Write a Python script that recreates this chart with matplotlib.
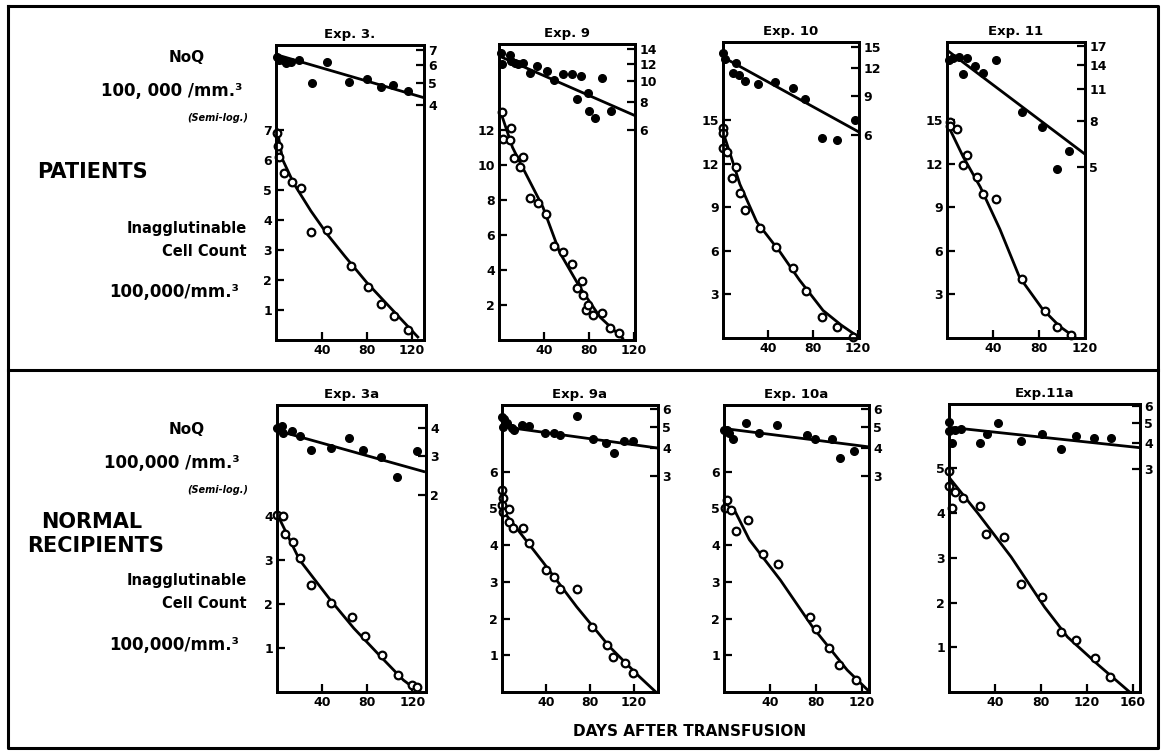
import matplotlib
matplotlib.use("Agg")
from matplotlib import pyplot as plt
from matplotlib.lines import Line2D
from matplotlib.ticker import NullLocator

plt.rcParams["font.family"] = ["DejaVu Sans"]
plt.rcParams["font.weight"] = "bold"

W, H = 1163, 752

# ---------------- data ----------------
# Exp. 3 (patient)
exp3_days = [0, 1, 2, 6, 13, 21, 30, 44, 66, 81, 92, 104, 116]
exp3_count = [6.9, 6.45, 6.1, 5.57, 5.25, 5.05, 3.6, 3.65, 2.48, 1.77, 1.2, 0.8, 0.33]
exp3_fit_days = [0, 5, 15, 30, 45, 60, 80, 100, 125]
exp3_fit_count = [7.0, 6.0, 5.2, 4.3, 3.5, 2.8, 1.9, 1.1, 0.1]
exp3_noq_days = [0, 2, 5, 8, 12, 19, 31, 44, 64, 80, 92, 103, 116]
exp3_noq = [6.5, 6.3, 6.3, 6.1, 6.2, 6.3, 5.0, 6.2, 5.05, 5.2, 4.8, 4.9, 4.6]
exp3_noq_fit_days = [0, 130]
exp3_noq_fit = [6.65, 4.3]

# Exp. 9 (patient)
exp9_days = [3, 3.5, 10, 11, 13, 19, 21, 28, 35, 42, 49, 57, 65, 69, 74, 75, 77, 79, 84, 92, 99, 107]
exp9_count = [13.0, 11.5, 11.4, 12.1, 10.4, 9.9, 10.45, 8.1, 7.8, 7.2, 5.37, 5.03, 4.34, 2.97, 3.37,
              2.57, 1.71, 2.0, 1.43, 1.54, 0.68, 0.4]
exp9_fit_days = [0, 12, 19, 39, 54, 72, 90, 110]
exp9_fit_count = [13.3, 11.0, 10.1, 7.6, 5.0, 3.0, 1.3, 0.1]
exp9_noq_days = [2, 3, 10, 11, 14, 17, 21, 28, 34, 43, 49, 57, 65, 69, 73, 79, 80, 85, 92, 100]
exp9_noq = [13.4, 11.9, 13.1, 12.4, 12.1, 12.0, 12.1, 10.9, 11.7, 11.1, 10.1, 10.8, 10.8, 8.3, 10.5,
            8.8, 7.3, 6.8, 10.3, 7.3]
exp9_noq_fit_days = [0, 120]
exp9_noq_fit = [13.0, 7.0]

# Exp. 10 (patient)
exp10_days = [0, 0, 0, 4, 8, 12, 15, 20, 33, 47, 62, 74, 88, 101, 116]
exp10_count = [14.5, 14.1, 13.1, 12.8, 11.0, 11.8, 10.0, 8.8, 7.6, 6.3, 4.8, 3.25, 1.45, 0.75, 0.1]
exp10_fit_days = [0, 8, 15, 30, 51, 68, 89, 105, 120]
exp10_fit_count = [14.2, 12.3, 10.6, 8.0, 5.9, 4.0, 1.9, 0.9, 0.1]
exp10_noq_days = [0, 2, 9, 12, 14, 20, 31, 46, 62, 73, 88, 101, 117]
exp10_noq = [14.1, 13.2, 11.5, 12.7, 11.2, 10.5, 10.2, 10.4, 9.8, 8.7, 5.85, 5.7, 7.0]
exp10_noq_fit_days = [0, 121]
exp10_noq_fit = [13.5, 6.2]

# Exp. 11 (patient)
exp11_days = [3, 3, 9, 14, 17, 26, 31, 43, 65, 85, 96, 108]
exp11_count = [14.9, 14.6, 14.4, 11.9, 12.6, 11.1, 9.9, 9.6, 4.07, 1.86, 0.76, 0.2]
exp11_fit_days = [0, 14, 29, 46, 63, 83, 98, 112]
exp11_fit_count = [14.8, 12.5, 10.4, 7.5, 4.2, 2.0, 0.8, 0.0]
exp11_noq_days = [2, 5, 10, 14, 17, 24, 31, 43, 65, 83, 96, 106]
exp11_noq = [14.8, 15.0, 15.2, 12.8, 15.0, 13.9, 12.9, 14.8, 8.7, 7.5, 4.9, 5.9]
exp11_noq_fit_days = [0, 120]
exp11_noq_fit = [16.3, 5.7]

# Exp. 3a (normal recipient)
exp3a_days = [0, 5, 7, 14, 20, 30, 48, 66, 78, 93, 107, 120, 124]
exp3a_count = [4.02, 4.0, 3.6, 3.4, 3.05, 2.43, 2.02, 1.7, 1.27, 0.84, 0.39, 0.16, 0.11]
exp3a_fit_days = [0, 20, 47, 68, 92, 112, 126]
exp3a_fit_count = [4.05, 3.0, 2.1, 1.45, 0.8, 0.27, 0.0]
exp3a_noq_days = [0, 4, 5, 13, 20, 30, 48, 64, 76, 92, 106, 124]
exp3a_noq = [4.0, 4.1, 3.8, 3.9, 3.7, 3.2, 3.25, 3.6, 3.2, 2.97, 2.4, 3.15]
exp3a_noq_fit_days = [0, 130]
exp3a_noq_fit = [3.9, 2.55]

# Exp. 9a (normal recipient)
exp9a_days = [0, 1, 0, 1, 6, 6, 10, 19, 25, 40, 47, 53, 68, 82, 96, 101, 112, 119]
exp9a_count = [5.5, 5.28, 5.1, 4.9, 4.99, 4.64, 4.46, 4.46, 4.06, 3.33, 3.14, 2.8, 2.8, 1.77, 1.28,
               0.95, 0.8, 0.52]
exp9a_fit_days = [0, 4.5, 37, 68, 98, 125, 140]
exp9a_fit_count = [5.05, 4.8, 3.55, 2.32, 1.23, 0.42, 0.0]
exp9a_noq_days = [0, 2, 1, 5, 9, 11, 18, 25, 39, 47, 53, 68, 83, 95, 102, 111, 119]
exp9a_noq = [5.5, 5.4, 5.0, 5.2, 4.9, 4.8, 5.1, 5.05, 4.7, 4.7, 4.6, 5.6, 4.4, 4.2, 3.8, 4.3, 4.3]
exp9a_noq_fit_days = [0, 142]
exp9a_noq_fit = [5.0, 4.0]

# Exp. 10a (normal recipient)
exp10a_days = [1, 3, 6, 10, 21, 34, 47, 75, 80, 91, 100, 115]
exp10a_count = [5.0, 5.23, 4.96, 4.39, 4.69, 3.76, 3.49, 2.04, 1.72, 1.2, 0.74, 0.33]
exp10a_fit_days = [0, 10, 22, 49, 77, 107, 125]
exp10a_fit_count = [5.05, 4.9, 4.15, 3.05, 1.77, 0.6, 0.05]
exp10a_noq_days = [0, 3, 4, 8, 19, 30, 46, 72, 79, 94, 101, 113]
exp10a_noq = [4.8, 4.8, 4.7, 4.4, 5.2, 4.7, 5.1, 4.6, 4.4, 4.4, 3.6, 3.9]
exp10a_noq_fit_days = [0, 126]
exp10a_noq_fit = [4.9, 4.05]

# Exp. 11a (normal recipient)
exp11a_days = [0, 0, 3, 5, 12, 27, 32, 48, 63, 81, 97, 110, 127, 140]
exp11a_count = [4.94, 4.6, 4.12, 4.47, 4.34, 4.16, 3.53, 3.47, 2.42, 2.13, 1.34, 1.16, 0.76, 0.34]
exp11a_fit_days = [0, 25, 54, 83, 103, 130, 157]
exp11a_fit_count = [4.8, 4.0, 3.02, 1.9, 1.23, 0.6, 0.0]
exp11a_noq_days = [0, 0, 3, 5, 10, 27, 33, 43, 63, 81, 97, 110, 126, 141]
exp11a_noq = [5.04, 4.57, 4.0, 4.6, 4.66, 4.0, 4.4, 4.98, 4.1, 4.4, 3.73, 4.3, 4.2, 4.2]
exp11a_noq_fit_days = [0, 165]
exp11a_noq_fit = [4.75, 3.8]

titles = ["Exp. 3.", "Exp. 9", "Exp. 10", "Exp. 11",
          "Exp. 3a", "Exp. 9a", "Exp. 10a", "Exp.11a"]
x_ticks = [[40, 80, 120], [40, 80, 120], [40, 80, 120], [40, 80, 120],
           [40, 80, 120], [40, 80, 120], [40, 80, 120], [40, 80, 120, 160]]
left_ticks = [[1, 2, 3, 4, 5, 6, 7], [2, 4, 6, 8, 10, 12], [3, 6, 9, 12, 15], [3, 6, 9, 12, 15],
              [1, 2, 3, 4], [1, 2, 3, 4, 5, 6], [1, 2, 3, 4, 5, 6], [1, 2, 3, 4, 5]]
right_ticks = [[4, 5, 6, 7], [6, 8, 10, 12, 14], [6, 9, 12, 15], [5, 8, 11, 14, 17],
               [2, 3, 4], [3, 4, 5, 6], [3, 4, 5, 6], [3, 4, 5, 6]]

panels = [
    (exp3_days, exp3_count, exp3_fit_days, exp3_fit_count,
     exp3_noq_days, exp3_noq, exp3_noq_fit_days, exp3_noq_fit),
    (exp9_days, exp9_count, exp9_fit_days, exp9_fit_count,
     exp9_noq_days, exp9_noq, exp9_noq_fit_days, exp9_noq_fit),
    (exp10_days, exp10_count, exp10_fit_days, exp10_fit_count,
     exp10_noq_days, exp10_noq, exp10_noq_fit_days, exp10_noq_fit),
    (exp11_days, exp11_count, exp11_fit_days, exp11_fit_count,
     exp11_noq_days, exp11_noq, exp11_noq_fit_days, exp11_noq_fit),
    (exp3a_days, exp3a_count, exp3a_fit_days, exp3a_fit_count,
     exp3a_noq_days, exp3a_noq, exp3a_noq_fit_days, exp3a_noq_fit),
    (exp9a_days, exp9a_count, exp9a_fit_days, exp9a_fit_count,
     exp9a_noq_days, exp9a_noq, exp9a_noq_fit_days, exp9a_noq_fit),
    (exp10a_days, exp10a_count, exp10a_fit_days, exp10a_fit_count,
     exp10a_noq_days, exp10a_noq, exp10a_noq_fit_days, exp10a_noq_fit),
    (exp11a_days, exp11a_count, exp11a_fit_days, exp11a_fit_count,
     exp11a_noq_days, exp11a_noq, exp11a_noq_fit_days, exp11a_noq_fit),
]

# ---------------- layout: box in pixels (left, right, top, bottom) and axis ranges ----------------
boxes = [(276, 424, 45, 340), (499, 635, 44, 340), (723, 859, 42, 338), (947, 1085, 42, 338),
         (277, 426, 405, 692), (502, 658, 405, 692), (724, 869, 405, 692), (949, 1140, 404, 692)]
xlims = [(-1, 130.5), (0, 121), (0, 121), (0, 120), (0, 132), (0, 142), (0, 126), (0, 166)]
left_lims = [9.83, 16.9, 20.4, 20.4, 6.52, 7.82, 7.82, 6.44]
right_lims = [(0.36, 7.36), (0.665, 14.74), (0.73, 15.8), (0.89, 17.7),
              (0.26, 5.08), (0.32, 6.25), (0.32, 6.25), (0.26, 6.13)]

fig = plt.figure(figsize=(W / 100, H / 100), dpi=100)

# frame and divider
frame = dict(color="black", lw=2.2, transform=fig.transFigure)
fig.add_artist(Line2D([8 / W, 1158 / W, 1158 / W, 8 / W, 8 / W],
                      [1 - 6 / H, 1 - 6 / H, 1 - 748 / H, 1 - 748 / H, 1 - 6 / H], **frame))
fig.add_artist(Line2D([8 / W, 1158 / W], [1 - 370 / H, 1 - 370 / H], **frame))

tick_font = dict(fontsize=9, fontweight="bold")

for i, (days, count, fdays, fcount, ndays, noq, nfdays, nfit) in enumerate(panels):
    l, r, t, b = boxes[i]
    ax = fig.add_axes([l / W, 1 - b / H, (r - l) / W, (b - t) / H])
    ax.plot(fdays, fcount, color="black", lw=2.0, zorder=2)
    ax.plot(days, count, "o", mfc="white", mec="black", mew=1.6, ms=5.5, zorder=3, clip_on=False)
    ax.set_xlim(*xlims[i])
    ax.set_ylim(0, left_lims[i])
    ax.set_xticks(x_ticks[i])
    ax.set_xticklabels([str(v) for v in x_ticks[i]], **tick_font)
    ax.set_yticks(left_ticks[i])
    ax.set_yticklabels([str(v) for v in left_ticks[i]], **tick_font)
    ax.tick_params(direction="in", length=6, width=1.6, pad=3)
    ax.set_title(titles[i], fontsize=9.5, fontweight="bold", pad=5)
    for s in ax.spines.values():
        s.set_linewidth(2.0)

    ax2 = ax.twinx()
    ax2.set_yscale("log")
    ax2.plot(nfdays, nfit, color="black", lw=2.0, zorder=2)
    ax2.plot(ndays, noq, "o", color="black", ms=5.5, zorder=3, clip_on=False)
    ax2.set_ylim(*right_lims[i])
    ax2.set_xlim(*xlims[i])
    ax2.yaxis.set_minor_locator(NullLocator())
    ax2.set_yticks(right_ticks[i])
    ax2.set_yticklabels([str(v) for v in right_ticks[i]], **tick_font)
    ax2.tick_params(direction="in", length=6, width=1.6, pad=3)
    for s in ax2.spines.values():
        s.set_linewidth(2.0)


def label(x, y, s, size=11, ha="center", style="normal"):
    fig.text(x / W, 1 - y / H, s, fontsize=size, fontweight="bold", ha=ha, va="center",
             style=style)


# left-hand legends, top block
label(187, 57, "NoQ")
label(172, 91, "100, 000 /mm.³", size=12)
label(218, 118, "(Semi-log.)", size=7, style="italic")
label(92, 172, "PATIENTS", size=15)
label(247, 228, "Inagglutinable", size=10.5, ha="right")
label(247, 252, "Cell Count", size=10.5, ha="right")
label(174, 292, "100,000/mm.³", size=12)

# bottom block
label(187, 430, "NoQ")
label(172, 463, "100,000 /mm.³", size=12)
label(218, 490, "(Semi-log.)", size=7, style="italic")
label(92, 522, "NORMAL", size=15)
label(96, 546, "RECIPIENTS", size=15)
label(247, 580, "Inagglutinable", size=10.5, ha="right")
label(247, 604, "Cell Count", size=10.5, ha="right")
label(174, 645, "100,000/mm.³", size=12)

label(690, 731, "DAYS AFTER TRANSFUSION", size=11)

fig.savefig("out.png", dpi=100)
